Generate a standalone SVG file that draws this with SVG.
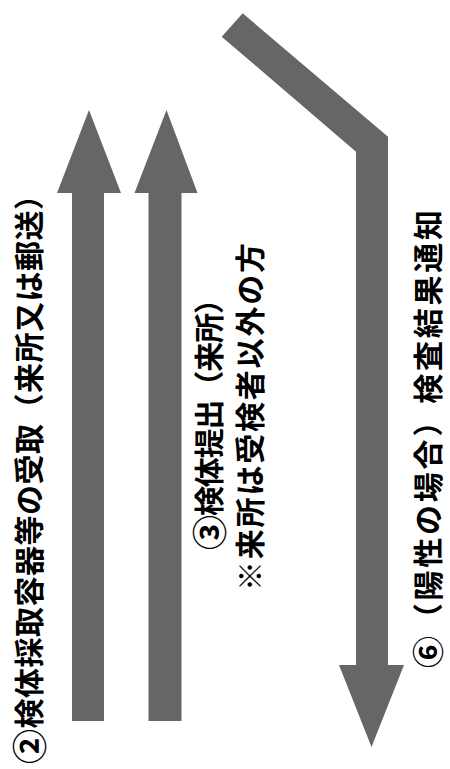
<svg xmlns="http://www.w3.org/2000/svg" width="450" height="769" viewBox="0 0 450 769">
<style>
.arrow{fill:#666666;stroke:none}
.lbl{font-family:"Noto Sans CJK JP","Noto Sans CJK SC",sans-serif;font-weight:700;font-size:30px;fill:#000;text-anchor:middle;dominant-baseline:central}
.num{font-size:35px}
.num6{font-size:32px}
</style>
<rect x="0" y="0" width="450" height="769" fill="#ffffff"/>
<g id="connectors">
<polygon class="arrow" points="72,721 72,193 57,193 89,110 121,193 104,193 104,721"/>
<polygon class="arrow" points="148.5,721 148.5,193 134.5,193 166.5,110 197.5,193 181.5,193 181.5,721"/>
<polygon class="arrow" points="242.7,13.3 388,136.7 388,665 404,665 371.5,747 339,665 356,665 356,151.7 221.7,36.7"/>
</g>
<g id="node-receive">
<text class="lbl" transform="translate(27,472) rotate(-90)" textLength="584" lengthAdjust="spacing"><tspan class="num">②</tspan>検体採取容器等の受取（来所又は郵送）</text>
</g>
<g id="node-submit">
<text class="lbl" transform="translate(207,417) rotate(-90)" textLength="266" lengthAdjust="spacing"><tspan class="num">③</tspan>検体提出（来所）</text>
<text class="lbl" transform="translate(248,417) rotate(-90)" textLength="348" lengthAdjust="spacing">※来所は受検者以外の方</text>
</g>
<g id="node-notify">
<text class="lbl" transform="translate(426,439) rotate(-90)" textLength="458" lengthAdjust="spacing"><tspan class="num6">⑥</tspan>（陽性の場合）検査結果通知</text>
</g>
</svg>
